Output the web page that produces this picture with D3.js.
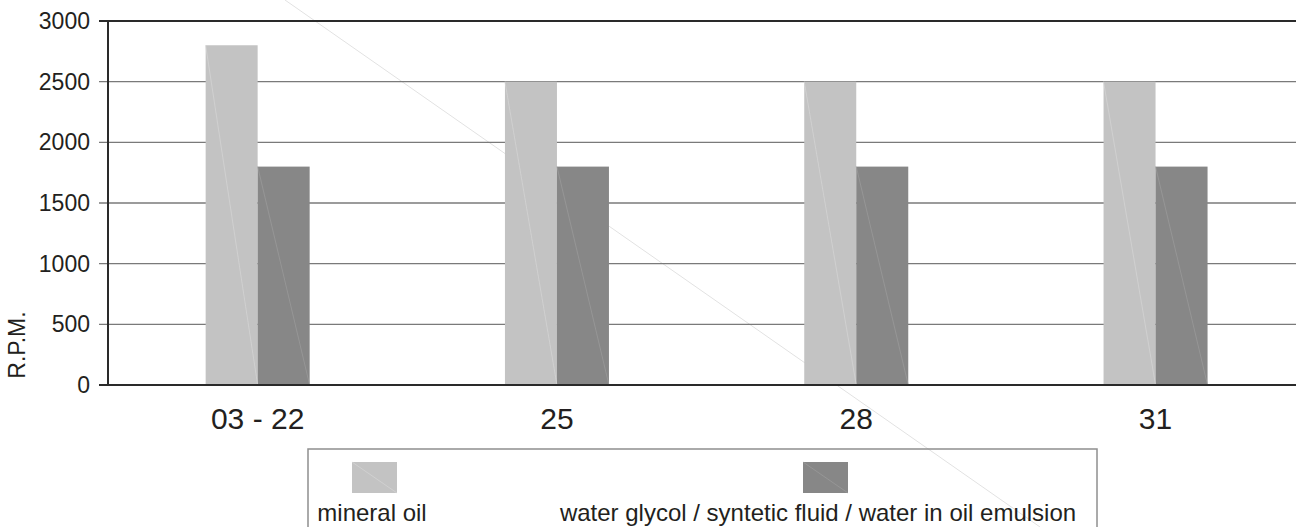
<!DOCTYPE html>
<html>
<head>
<meta charset="utf-8">
<script src="https://cdn.jsdelivr.net/npm/d3@7"></script>
<style>
  body { margin: 0; background: #fff; }
  text { font-family: "Liberation Sans", Arial, sans-serif; fill: #231f20; }
</style>
</head>
<body>
<script>
var categories = ["03 - 22", "25", "28", "31"];
var seriesNames = ["mineral oil", "water glycol / syntetic fluid / water in oil emulsion"];
var mineralOil = [2800, 2500, 2500, 2500];
var waterGlycol = [1800, 1800, 1800, 1800];
var yTicks = [0, 500, 1000, 1500, 2000, 2500, 3000];
var colors = ["#c3c3c3", "#878787"];
var seamColors = ["#d6d6d6", "#9c9c9c"];

function drawChart() {
  var width = 1296, height = 527;
  var plotLeft = 108, plotTop = 21, plotBottom = 385;

  var svg = d3.select("body").append("svg")
      .attr("width", width)
      .attr("height", height);

  var x = d3.scaleBand().domain(categories)
      .range([plotLeft, plotLeft + 4 * 299.3])
      .paddingInner(0.6525)
      .paddingOuter(0.32625);

  var x1 = d3.scaleBand().domain([0, 1]).range([0, x.bandwidth()]);

  var y = d3.scaleLinear().domain([0, 3000]).range([plotBottom, plotTop]);

  // faint diagonal crossing the page (scan artefact), kept behind everything
  svg.append("line")
    .attr("x1", 285).attr("y1", 0)
    .attr("x2", 1040).attr("y2", height)
    .attr("stroke", "#e2e2e2")
    .attr("stroke-width", 1);

  // grid lines
  svg.append("g").selectAll("line")
    .data(yTicks.filter(function(d) { return d > 0 && d < 3000; }))
    .enter().append("line")
    .attr("x1", plotLeft - 9).attr("x2", width)
    .attr("y1", function(d) { return y(d); })
    .attr("y2", function(d) { return y(d); })
    .attr("stroke", "#7a7a7a")
    .attr("stroke-width", 1.4);

  // top frame line
  svg.append("line")
    .attr("x1", plotLeft - 9).attr("x2", width)
    .attr("y1", y(3000)).attr("y2", y(3000))
    .attr("stroke", "#2a2a2a").attr("stroke-width", 2);

  // bars
  var rows = categories.map(function(c, i) { return {cat: c, vals: [mineralOil[i], waterGlycol[i]]}; });

  var groups = svg.selectAll(".grp")
    .data(rows)
    .enter().append("g")
    .attr("class", "grp")
    .attr("transform", function(d) { return "translate(" + x(d.cat) + ",0)"; });

  groups.selectAll("rect")
    .data(function(d) { return d.vals; })
    .enter().append("rect")
    .attr("x", function(d, i) { return x1(i); })
    .attr("y", function(d) { return y(d); })
    .attr("width", x1.bandwidth())
    .attr("height", function(d) { return y(0) - y(d); })
    .attr("fill", function(d, i) { return colors[i]; });

  // faint seams in the bars
  groups.selectAll("line.seam")
    .data(function(d) { return d.vals; })
    .enter().append("line")
    .attr("class", "seam")
    .attr("x1", function(d, i) { return x1(i); })
    .attr("y1", function(d) { return y(d); })
    .attr("x2", function(d, i) { return x1(i) + x1.bandwidth(); })
    .attr("y2", y(0))
    .attr("stroke", function(d, i) { return seamColors[i]; })
    .attr("stroke-width", 0.7);

  // axes
  svg.append("line")
    .attr("x1", plotLeft).attr("x2", plotLeft)
    .attr("y1", y(3000)).attr("y2", y(0))
    .attr("stroke", "#2a2a2a").attr("stroke-width", 2);

  svg.append("line")
    .attr("x1", plotLeft - 9).attr("x2", width)
    .attr("y1", y(0)).attr("y2", y(0))
    .attr("stroke", "#2a2a2a").attr("stroke-width", 2);

  svg.append("g").selectAll("text")
    .data(yTicks)
    .enter().append("text")
    .attr("x", 90)
    .attr("y", function(d) { return y(d) + 8; })
    .attr("text-anchor", "end")
    .attr("font-size", "23px")
    .text(function(d) { return d; });

  svg.append("g").selectAll("text")
    .data(categories)
    .enter().append("text")
    .attr("x", function(d) { return x(d) + x.bandwidth() / 2; })
    .attr("y", 429)
    .attr("text-anchor", "middle")
    .attr("font-size", "30px")
    .text(function(d) { return d; });

  svg.append("text")
    .attr("transform", "translate(25,345) rotate(-90)")
    .attr("text-anchor", "middle")
    .attr("font-size", "23px")
    .text("R.P.M.");

  // legend
  svg.append("rect")
    .attr("x", 308).attr("y", 449)
    .attr("width", 789).attr("height", 100)
    .attr("fill", "none")
    .attr("stroke", "#8f8f8f")
    .attr("stroke-width", 1.5);

  var legendX = [374, 825];

  var items = svg.selectAll(".leg")
    .data(seriesNames)
    .enter().append("g")
    .attr("class", "leg")
    .attr("transform", function(d, i) { return "translate(" + legendX[i] + ",0)"; });

  items.append("rect")
    .attr("x", -22).attr("y", 462)
    .attr("width", 45).attr("height", 31)
    .attr("fill", function(d, i) { return colors[i]; });

  items.append("line")
    .attr("x1", -22).attr("y1", 462)
    .attr("x2", 23).attr("y2", 493)
    .attr("stroke", function(d, i) { return seamColors[i]; })
    .attr("stroke-width", 0.7);

  items.append("text")
    .attr("x", function(d, i) { return i == 0 ? -2 : -7; })
    .attr("y", 521)
    .attr("text-anchor", "middle")
    .attr("font-size", "24px")
    .text(function(d) { return d; });
}

drawChart();
</script>
</body>
</html>
